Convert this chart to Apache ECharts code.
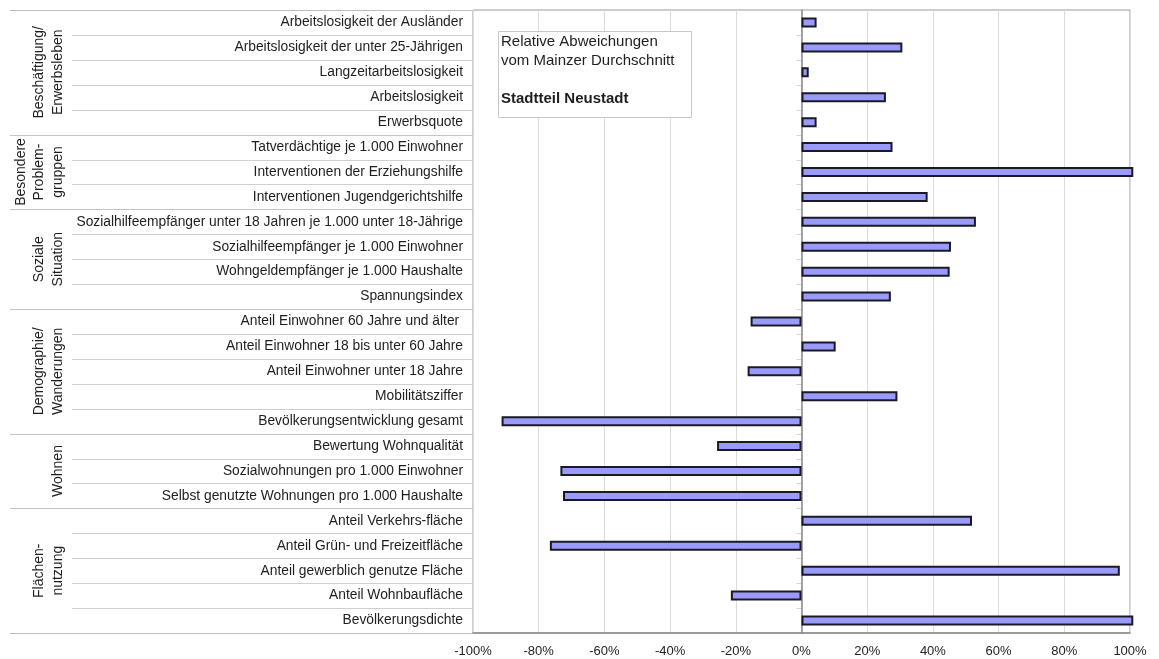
<!DOCTYPE html>
<html>
<head>
<meta charset="utf-8">
<script src="https://cdn.jsdelivr.net/npm/echarts@6/dist/echarts.min.js"></script>
<style>
  html, body { margin: 0; padding: 0; background: #fff; }
  #chart { width: 1159px; height: 659px; }
</style>
</head>
<body>
<div id="chart"></div>
<script>
// Indicators, listed top to bottom
const categories = [
  'Arbeitslosigkeit der Ausländer',
  'Arbeitslosigkeit der unter 25-Jährigen',
  'Langzeitarbeitslosigkeit',
  'Arbeitslosigkeit',
  'Erwerbsquote',
  'Tatverdächtige je 1.000 Einwohner',
  'Interventionen der Erziehungshilfe',
  'Interventionen Jugendgerichtshilfe',
  'Sozialhilfeempfänger unter 18 Jahren je 1.000 unter 18-Jährige',
  'Sozialhilfeempfänger je 1.000 Einwohner',
  'Wohngeldempfänger je 1.000 Haushalte',
  'Spannungsindex',
  'Anteil Einwohner 60 Jahre und älter ',
  'Anteil Einwohner 18 bis unter 60 Jahre',
  'Anteil Einwohner unter 18 Jahre',
  'Mobilitätsziffer',
  'Bevölkerungsentwicklung gesamt',
  'Bewertung Wohnqualität',
  'Sozialwohnungen pro 1.000 Einwohner',
  'Selbst genutzte Wohnungen pro 1.000 Haushalte',
  'Anteil Verkehrs-fläche',
  'Anteil Grün- und Freizeitfläche',
  'Anteil gewerblich genutze Fläche',
  'Anteil Wohnbaufläche',
  'Bevölkerungsdichte'
];

// Relative deviation from the Mainz average, in percent
const deviation = [
  4.6, 30.7, 2.2, 25.7, 4.6,
  27.7, 101, 38.4,
  53.1, 45.5, 45.1, 27.2,
  -15.5, 10.4, -16.4, 29.2, -91.3,
  -25.7, -73.4, -72.6,
  51.9, -76.6, 96.9, -21.5, 101
];

// Thematic groups: label and number of indicators in each
const groupLabels = [
  'Beschäftigung/\nErwerbsleben',
  'Besondere\nProblem-\ngruppen',
  'Soziale\nSituation',
  'Demographie/\nWanderungen',
  'Wohnen',
  'Flächen-\nnutzung'
];
const groupSizes = [5, 3, 4, 5, 3, 5];

const xTicks = [-100, -80, -60, -40, -20, 0, 20, 40, 60, 80, 100];

const boxLines = ['Relative Abweichungen', 'vom Mainzer Durchschnitt', 'Stadtteil Neustadt'];

const FONT = '"Liberation Sans", Arial, sans-serif';
const GRID = { left: 473, right: 29, top: 10, bottom: 26 };

const chart = echarts.init(document.getElementById('chart'), null, { renderer: 'canvas' });

chart.setOption({
  backgroundColor: '#ffffff',
  animation: false,
  grid: {
    left: GRID.left, right: GRID.right, top: GRID.top, bottom: GRID.bottom,
    show: true, borderColor: '#9a9a9a', borderWidth: 1, backgroundColor: 'transparent'
  },
  xAxis: {
    type: 'value',
    min: xTicks[0], max: xTicks[xTicks.length - 1], interval: 20,
    axisLine: { show: true, onZero: false, lineStyle: { color: '#8a8a8a', width: 1.5 } },
    axisTick: { show: false },
    splitLine: { show: true, lineStyle: { color: '#dcdcdc', width: 1 } },
    axisLabel: {
      formatter: v => v + '%',
      fontFamily: FONT, fontSize: 13, color: '#222', margin: 12
    }
  },
  yAxis: {
    type: 'category',
    data: categories,
    inverse: true,
    axisLine: { show: true, lineStyle: { color: '#8a8a8a', width: 1.5 } },
    axisTick: { show: false },
    splitLine: { show: false },
    axisLabel: {
      fontFamily: FONT, fontSize: 13.8, color: '#1e1e1e', margin: 10, align: 'right'
    }
  },
  series: [{
    type: 'bar',
    data: deviation,
    barWidth: 10,
    clip: false,
    itemStyle: { color: '#9a9afa', borderColor: '#1a1a26', borderWidth: 2 }
  }]
});

// Row separators, group labels and the caption box are laid out from the category scale
function drawDecorations() {
  const n = categories.length;
  const yc = i => chart.convertToPixel({ yAxisIndex: 0 }, i);
  const band = yc(1) - yc(0);
  const edge = i => yc(i) - band / 2;   // top edge of row i
  const xLeft = GRID.left;
  const x0 = chart.convertToPixel({ xAxisIndex: 0 }, 0);

  const elements = [];
  const groupStarts = [];
  let acc = 0;
  groupSizes.forEach(s => { groupStarts.push(acc); acc += s; });

  for (let i = 1; i < n; i++) {
    const isGroup = groupStarts.indexOf(i) >= 0;
    const y = Math.round(edge(i)) + 0.5;
    elements.push({
      type: 'line',
      shape: { x1: isGroup ? 10 : 72, y1: y, x2: xLeft, y2: y },
      style: { stroke: isGroup ? '#c4c4c4' : '#cfcfcf', lineWidth: 1 },
      silent: true
    });
    // small category ticks on the zero line
    elements.push({
      type: 'line',
      shape: { x1: x0 - 5, y1: y, x2: x0, y2: y },
      style: { stroke: '#d4d4d4', lineWidth: 1 },
      silent: true
    });
  }
  [edge(0), edge(n)].forEach(yy => {
    const y = Math.round(yy) + 0.5;
    elements.push({
      type: 'line',
      shape: { x1: 10, y1: y, x2: xLeft, y2: y },
      style: { stroke: '#bdbdbd', lineWidth: 1 },
      silent: true
    });
  });

  // rotated group labels
  groupLabels.forEach((label, g) => {
    const first = groupStarts[g];
    const last = first + groupSizes[g] - 1;
    const cy = (yc(first) + yc(last)) / 2;
    elements.push({
      type: 'text',
      x: 67, y: cy,
      rotation: Math.PI / 2,
      style: {
        text: label,
        fontFamily: FONT, fontSize: 14, lineHeight: 18.5,
        fill: '#1e1e1e',
        align: 'center', verticalAlign: 'bottom'
      },
      silent: true
    });
  });

  // caption box
  const bx = 498, by = 31, bw = 193, bh = 86;
  elements.push({
    type: 'rect',
    shape: { x: bx + 0.5, y: by + 0.5, width: bw, height: bh },
    style: { fill: '#ffffff', stroke: '#c8c8c8', lineWidth: 1 },
    silent: true
  });
  [[boxLines[0], 42, 'normal'], [boxLines[1], 61, 'normal'], [boxLines[2], 99, 'bold']].forEach(([t, y, w]) => {
    elements.push({
      type: 'text',
      x: bx + 3, y: y,
      style: {
        text: t, fontFamily: FONT, fontSize: 15, fontWeight: w,
        fill: '#1e1e1e', align: 'left', verticalAlign: 'middle'
      },
      silent: true
    });
  });

  chart.setOption({ graphic: { elements: elements } });
}

drawDecorations();
</script>
</body>
</html>
